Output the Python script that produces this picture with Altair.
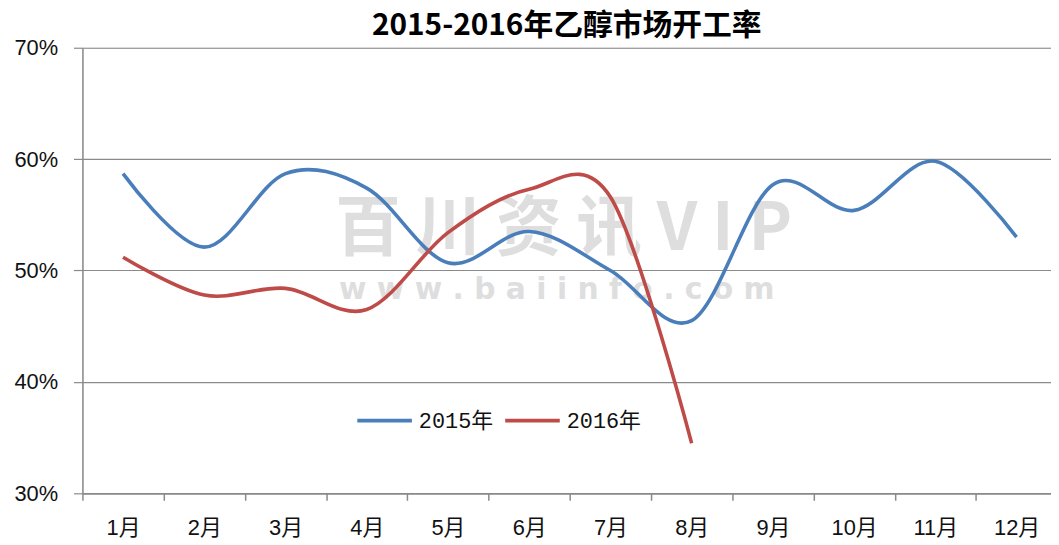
import altair as alt
import pandas as pd

months = list(range(1, 13))
month_labels = [f"{m}月" for m in months]
series_names = ["2015年", "2016年"]
v2015 = [58.7, 52.1, 58.7, 57.4, 50.7, 53.5, 50.0, 45.5, 57.7, 55.4, 59.8, 53.0]
v2016 = [51.2, 47.8, 48.4, 46.5, 53.4, 57.3, 56.6, 34.5]
colors = ["#4A7EBB", "#BE4B48"]
y_ticks = [0.3, 0.4, 0.5, 0.6, 0.7]
title_text = "2015-2016年乙醇市场开工率"
wm_big = "百  川  资  讯  V  I  P"
wm_small = "w w w . b a i i n f o . c o m"

rows = []
for m, v in zip(months, v2015):
    rows.append({"m": m, "v": v / 100, "s": series_names[0]})
for m, v in zip(months, v2016):
    rows.append({"m": m, "v": v / 100, "s": series_names[1]})
df = pd.DataFrame(rows)

tick_vals = [k / 2 for k in range(1, 25)]  # 0.5 .. 12.0

font_lbl = "Liberation Sans, Noto Sans CJK SC, sans-serif"
grid_col = "#8a8a8a"

x_enc = alt.X(
    "m:Q",
    scale=alt.Scale(domain=[0.5, 12.424], nice=False, zero=False),
    axis=alt.Axis(
        values=tick_vals,
        labelExpr="datum.value % 1 == 0 ? datum.value + '月' : ''",
        tickOpacity=alt.condition("datum.value % 1 == 0", alt.value(0), alt.value(1)),
        grid=False,
        domainColor=grid_col,
        tickColor=grid_col,
        tickSize=7,
        tickWidth=1.5,
        domainWidth=1.5,
        labelPadding=17,
        labelFont=font_lbl,
        labelFontSize=22,
        labelColor="#111111",
        labelOverlap=False,
        labelFlush=False,
        title=None,
    ),
)
y_enc = alt.Y(
    "v:Q",
    scale=alt.Scale(domain=[0.3, 0.7], nice=False, zero=False),
    axis=alt.Axis(
        values=y_ticks,
        format=".0%",
        grid=True,
        gridColor=grid_col,
        gridWidth=1.2,
        domainColor=grid_col,
        domainWidth=1.5,
        tickColor=grid_col,
        tickSize=9,
        tickWidth=1.2,
        labelPadding=16,
        labelFont=font_lbl,
        labelFontSize=22,
        labelColor="#111111",
        title=None,
    ),
)

lines = alt.Chart(df).mark_line(strokeWidth=3.6, interpolate="cardinal").encode(
    x=x_enc,
    y=y_enc,
    color=alt.Color(
        "s:N",
        scale=alt.Scale(domain=series_names, range=colors),
        legend=alt.Legend(
            title=None,
            orient="none",
            legendX=275,
            legendY=346,
            direction="horizontal",
            symbolType="stroke",
            symbolSize=3025,
            symbolStrokeWidth=4,
            labelOffset=5,
            columnPadding=4,
            labelFont="Liberation Mono, Noto Sans CJK SC, monospace",
            labelFontSize=22,
            labelColor="#111111",
            padding=0,
        ),
    ),
    order="m:Q",
)

wm1 = alt.Chart(pd.DataFrame({"t": [wm_big]})).mark_text(
    font="Noto Sans CJK SC", fontSize=66, color="#dedede", fontWeight="bold",
    align="center", baseline="middle",
).encode(text="t:N", x=alt.value(485), y=alt.value(184))

wm2 = alt.Chart(pd.DataFrame({"t": [wm_small]})).mark_text(
    font="DejaVu Sans", fontSize=30, color="#dedede", fontWeight="bold",
    align="center", baseline="middle",
).encode(text="t:N", x=alt.value(478), y=alt.value(244))

chart = alt.layer(wm1, wm2, lines).properties(
    width=976,
    height=449,
    title=alt.TitleParams(
        title_text,
        font="Noto Sans CJK SC",
        fontSize=30,
        fontWeight="bold",
        color="#000000",
        anchor="middle",
        frame="group",
        offset=-7,
        dy=-3,
    ),
    padding={"left": 5, "right": 0, "top": 1, "bottom": 0},
).configure_view(stroke=None).configure(background="white")

chart.save("out.html", embed_options={"renderer": "svg", "actions": False})
